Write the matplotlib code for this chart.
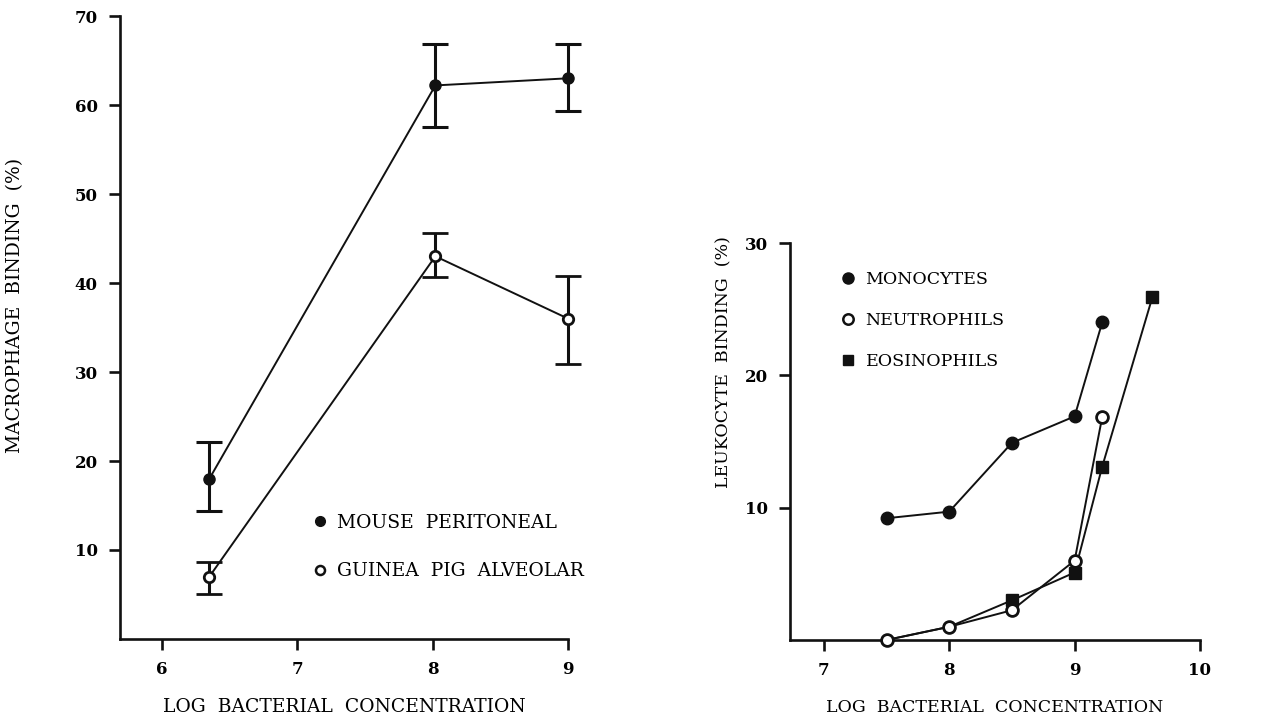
import matplotlib
matplotlib.use("Agg")
import matplotlib.pyplot as plt
from matplotlib.lines import Line2D

plt.rcParams['font.family'] = ['DejaVu Serif']

# Left panel: macrophage binding vs log bacterial concentration
mac_x = [6.35, 8.02, 9.0]
mouse_y = [18.0, 62.2, 63.0]
mouse_lo = [14.4, 57.5, 59.3]
mouse_hi = [22.1, 66.9, 66.9]
guinea_y = [7.0, 43.0, 36.0]
guinea_lo = [5.05, 40.7, 30.9]
guinea_hi = [8.65, 45.6, 40.8]
left_xticks = [6, 7, 8, 9]
left_yticks = [10, 20, 30, 40, 50, 60, 70]

# Right panel: leukocyte binding
mono_x = [7.5, 8.0, 8.5, 9.0, 9.22]
mono_y = [9.2, 9.7, 14.9, 16.9, 24.0]
neut_x = [7.5, 8.0, 8.5, 9.0, 9.22]
neut_y = [0.0, 1.0, 2.25, 6.0, 16.85]
eos_x = [7.5, 8.0, 8.5, 9.0, 9.22, 9.62]
eos_y = [0.0, 1.0, 3.0, 5.1, 13.1, 25.9]
right_xticks = [7, 8, 9, 10]
right_yticks = [10, 20, 30]

INK = '#111111'
LW = 1.4
AXLW = 1.9

fig = plt.figure(figsize=(12.65, 7.25), dpi=100)
fig.patch.set_facecolor('white')


def style_axes(ax):
    for s in ('top', 'right'):
        ax.spines[s].set_visible(False)
    for s in ('left', 'bottom'):
        ax.spines[s].set_linewidth(AXLW)
        ax.spines[s].set_color(INK)
    ax.tick_params(direction='out', length=8, width=AXLW, color=INK,
                   labelsize=12)
    ax.tick_params(axis='x', pad=8)
    ax.tick_params(axis='y', pad=8)
    for lab in ax.get_xticklabels() + ax.get_yticklabels():
        lab.set_fontweight('bold')


# ---------------- left panel ----------------
axL = fig.add_axes([120 / 1265, 1 - 639 / 725, 448 / 1265, 623 / 725])
axL.set_xlim(5.69, 9.0)
axL.set_ylim(0, 70)
axL.set_xticks(left_xticks)
axL.set_yticks(left_yticks)
axL.set_xticklabels([str(t) for t in left_xticks])
axL.set_yticklabels([str(t) for t in left_yticks])
style_axes(axL)

err_kw = dict(ecolor=INK, elinewidth=2.2, capsize=9.5, capthick=2.2)
axL.errorbar(mac_x, mouse_y,
             yerr=[[m - l for m, l in zip(mouse_y, mouse_lo)],
                   [h - m for m, h in zip(mouse_y, mouse_hi)]],
             color=INK, lw=LW, marker='o', ms=8, mfc=INK, mec=INK,
             clip_on=False, zorder=3, **err_kw)
axL.errorbar(mac_x, guinea_y,
             yerr=[[m - l for m, l in zip(guinea_y, guinea_lo)],
                   [h - m for m, h in zip(guinea_y, guinea_hi)]],
             color=INK, lw=LW, marker='o', ms=7.5, mfc='white', mec=INK,
             mew=2, clip_on=False, zorder=3, **err_kw)

handlesL = [
    Line2D([], [], ls='none', marker='o', ms=7, mfc=INK, mec=INK),
    Line2D([], [], ls='none', marker='o', ms=6.5, mfc='white', mec=INK, mew=1.8),
]
axL.legend(handlesL, ['MOUSE  PERITONEAL', 'GUINEA  PIG  ALVEOLAR'],
           loc='upper left', bbox_to_anchor=(0.414, 0.216),
           frameon=False, fontsize=13.5, handlelength=0.6,
           handletextpad=0.6, labelspacing=1.62, borderpad=0)

axL.set_xlabel('LOG  BACTERIAL  CONCENTRATION', fontsize=13.5, labelpad=14)
axL.set_ylabel('MACROPHAGE  BINDING  (%)', fontsize=13.5)
axL.yaxis.set_label_coords(-0.215, 0.535)

# ---------------- right panel ----------------
axR = fig.add_axes([790 / 1265, 1 - 640 / 725, 410 / 1265, 397 / 725])
axR.set_xlim(6.73, 10.0)
axR.set_ylim(0, 30)
axR.set_xticks(right_xticks)
axR.set_yticks(right_yticks)
axR.set_xticklabels([str(t) for t in right_xticks])
axR.set_yticklabels([str(t) for t in right_yticks])
style_axes(axR)

axR.plot(eos_x, eos_y, color=INK, lw=LW, marker='s', ms=8, mfc=INK,
         mec=INK, markevery=[2, 3, 4, 5], clip_on=False, zorder=3)
axR.plot(neut_x, neut_y, color=INK, lw=LW, marker='o', ms=8.5, mfc='white',
         mec=INK, mew=2, clip_on=False, zorder=4)
axR.plot(mono_x, mono_y, color=INK, lw=LW, marker='o', ms=9, mfc=INK,
         mec=INK, clip_on=False, zorder=4)

handlesR = [
    Line2D([], [], ls='none', marker='o', ms=8, mfc=INK, mec=INK),
    Line2D([], [], ls='none', marker='o', ms=7.5, mfc='white', mec=INK, mew=1.8),
    Line2D([], [], ls='none', marker='s', ms=7, mfc=INK, mec=INK),
]
axR.legend(handlesR, ['MONOCYTES', 'NEUTROPHILS', 'EOSINOPHILS'],
           loc='upper left', bbox_to_anchor=(0.108, 0.952),
           frameon=False, fontsize=12.5, handlelength=0.6,
           handletextpad=0.7, labelspacing=1.4, borderpad=0)

axR.set_xlabel('LOG  BACTERIAL  CONCENTRATION', fontsize=12.5, labelpad=14)
axR.set_ylabel('LEUKOCYTE  BINDING  (%)', fontsize=12.5)
axR.yaxis.set_label_coords(-0.14, 0.70)

fig.savefig('out.png', dpi=100, facecolor='white')
